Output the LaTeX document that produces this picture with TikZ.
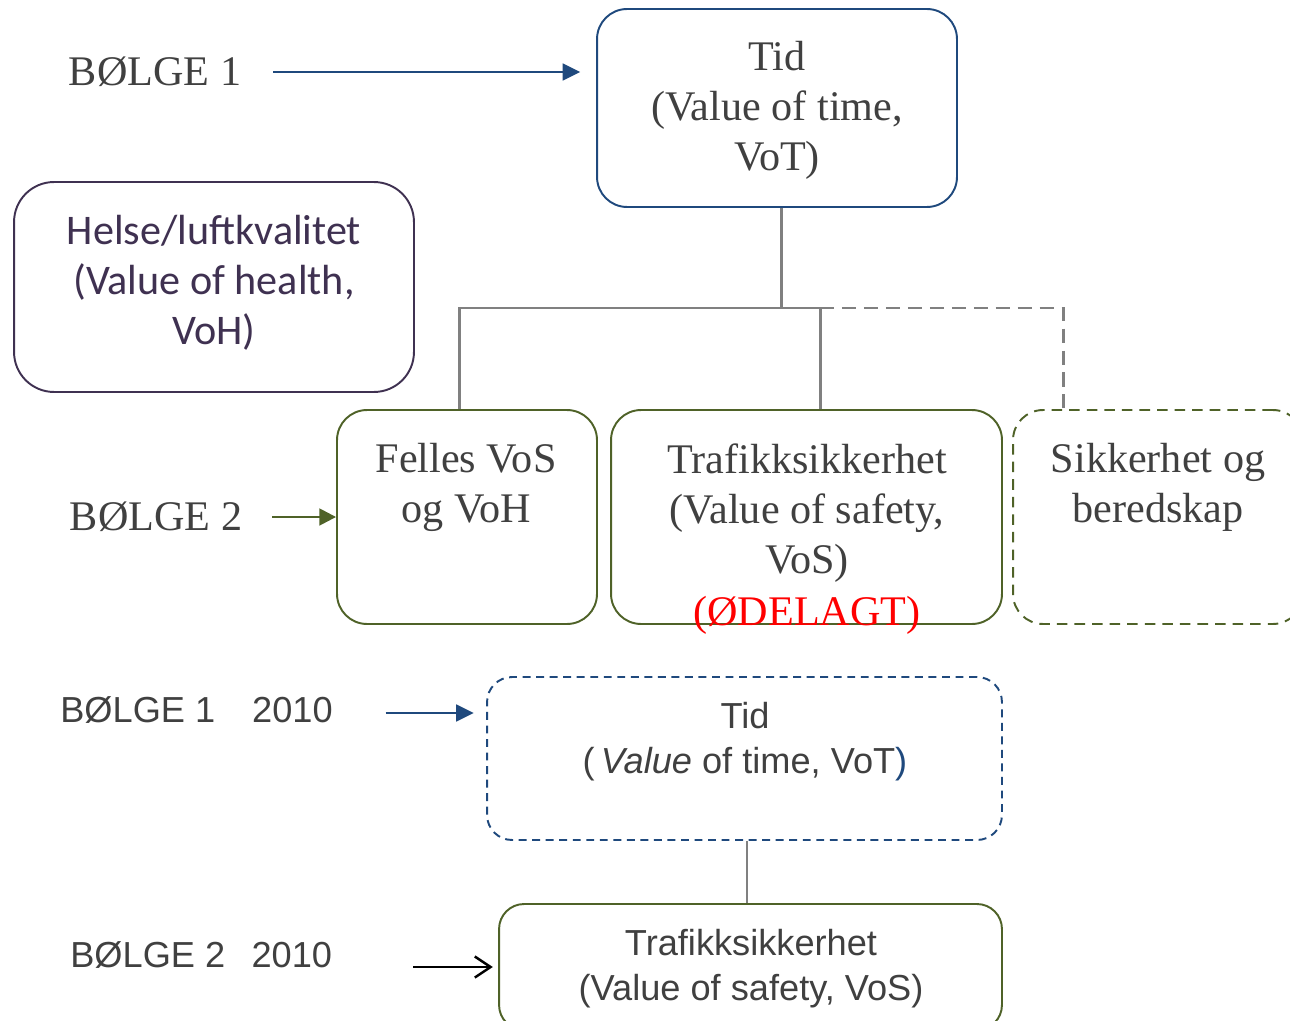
\documentclass[tikz,border=0pt]{standalone}
\usepackage{fontspec}
\setmainfont{Liberation Serif}
\setsansfont{Liberation Sans}
\newfontfamily\calibfont{Carlito}
\usetikzlibrary{arrows.meta,calc}
\definecolor{bluec}{RGB}{31,73,125}
\definecolor{greenc}{RGB}{79,98,40}
\definecolor{purplec}{RGB}{63,49,81}
\definecolor{treec}{RGB}{128,128,128}
\definecolor{txtgray}{RGB}{64,64,64}
\tikzset{
  bx/.style={draw, line width=1.1pt, inner sep=0pt, rounded corners=0.6cm},
  serif/.style={font=\fontsize{24}{28.5}\selectfont, text=txtgray, align=center, inner sep=0pt},
  sans/.style={font=\sffamily\fontsize{20.6}{25.5}\selectfont, text=txtgray, align=center, inner sep=0pt},
  calib/.style={font=\calibfont\fontsize{24}{28.5}\selectfont, text=purplec, align=center, inner sep=0pt},
  tree/.style={draw=treec, line width=1.7pt},
  treedash/.style={tree, dash pattern=on 8pt off 4.5pt},
  barrow/.style={draw=bluec, line width=1.5pt, -{Triangle[length=10pt,width=9.5pt]}},
  garrow/.style={draw=greenc, line width=1.5pt, -{Triangle[length=9.5pt,width=9.5pt]}},
  karrow/.style={draw=black, line width=1.4pt, -{Straight Barb[length=9pt,width=12pt]}},
}
\begin{document}
\begin{tikzpicture}[x=0.02cm,y=-0.02cm]
\useasboundingbox (0,0) rectangle (1290,1020);

% top blue box
\node[bx, draw=bluec, minimum width=7.2cm, minimum height=3.96cm] (tid) at (777,108) {};
\node[serif] (tidtxt) at (777,110) {Tid\\(Value of time,\\VoT)};

% Helse box
\node[bx, draw=purplec, minimum width=8cm, minimum height=4.2cm, rounded corners=0.8cm] (helse) at (214,287) {};
\node[calib] (helsetxt) at (214,283) {Helse/luftkvalitet\\(Value of health,\\VoH)};

% wave 2 boxes
\node[bx, draw=greenc, minimum width=5.2cm, minimum height=4.28cm] (felles) at (467,517) {};
\node[serif] (fellestxt) at (466,487) {Felles VoS\\og VoH};

\node[bx, draw=greenc, minimum width=7.82cm, minimum height=4.28cm] (traf) at (806.5,517) {};
\node[serif] (traftxt) at (807,513) {Trafikksikkerhet\\(Value of safety,\\VoS)};
\node[serif, text=red] (odelagt) at (807,615) {(ØDELAGT)};

\node[bx, draw=greenc, dash pattern=on 6pt off 4pt, minimum width=5.8cm, minimum height=4.28cm] (sik) at (1158,517) {};
\node[serif] (siktxt) at (1158,487) {Sikkerhet og\\beredskap};

% tree
\coordinate (j) at (781,308);
\coordinate (jl) at (459,308);
\coordinate (jm) at (820,308);
\coordinate (jr) at (1063,308);
\draw[tree] (tid.south -| j) -- (j);
\draw[tree] (felles.north -| jl) -- (jl) -- (jm) -- (traf.north -| jm);
\draw[treedash] (jm) -- (jr) -- (sik.north -| jr);

% labels wave
\node[serif] (b1) at (155,72) {BØLGE 1};
\draw[barrow, shorten <=18pt, shorten >=9pt] (b1.east) -- (b1.east -| tid.west);

\node[serif] (b2) at (156,517) {BØLGE 2};
\draw[garrow, shorten <=17pt] (b2.east) -- (felles.west);

% 2010
\node[bx, draw=bluec, dash pattern=on 4.5pt off 3.2pt, minimum width=10.3cm, minimum height=3.26cm, rounded corners=0.5cm] (tid2) at (744.5,758.5) {};
\node[sans] (tid2txt) at (745,742) {Tid\\(\,\textit{Value} of time, VoT\textcolor{bluec}{)}};

\node[bx, draw=greenc, minimum width=10.06cm, minimum height=2.52cm, rounded corners=0.5cm] (traf2) at (750.5,967) {};
\node[sans] (traf2txt) at (751,969) {Trafikksikkerhet\\(Value of safety, VoS)};

\coordinate (c747) at (747,0);
\draw[tree, line width=1.4pt] (tid2.south -| c747) -- (traf2.north -| c747);

\node[sans, anchor=west] (b3) at (60,710) {BØLGE 1\hspace{21pt}2010};
\draw[barrow, line width=1.3pt, shorten <=30pt, shorten >=7pt] (b3.east) ++(0,3) -- (tid2.west |- 0,713);

\node[sans, anchor=west] (b4) at (70,955) {BØLGE 2\hspace{15pt}2010};
\draw[karrow, shorten <=46pt, shorten >=3pt] (b4.east |- traf2.west) -- (traf2.west);
\end{tikzpicture}
\end{document}
